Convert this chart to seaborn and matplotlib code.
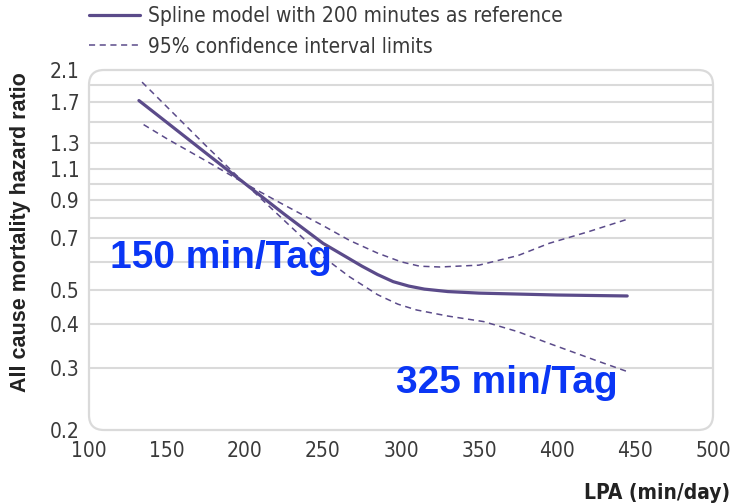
import numpy as np
import pandas as pd
import matplotlib
matplotlib.use("Agg")
import matplotlib.pyplot as plt
import seaborn as sns
from matplotlib.patches import FancyBboxPatch
from matplotlib.lines import Line2D

# ---- data ----
lpa_main = [132, 150, 175, 200, 225, 250, 265, 275, 285, 295, 305, 315, 330, 350, 400, 445]
hr_main = [1.72, 1.49, 1.22, 1.00, 0.820, 0.677, 0.619, 0.583, 0.552, 0.527, 0.512, 0.502, 0.494, 0.489, 0.483, 0.480]

lpa_upper = [134, 150, 175, 200, 225, 250, 267, 285, 300, 312, 325, 350, 375, 395, 420, 445]
hr_upper = [1.94, 1.65, 1.28, 1.00, 0.87, 0.76, 0.69, 0.635, 0.60, 0.583, 0.580, 0.587, 0.625, 0.677, 0.73, 0.792]

lpa_lower = [135, 150, 175, 200, 225, 250, 267, 285, 298, 310, 330, 353, 375, 395, 425, 445]
hr_lower = [1.47, 1.34, 1.16, 1.00, 0.787, 0.62, 0.544, 0.484, 0.455, 0.438, 0.421, 0.406, 0.38, 0.352, 0.315, 0.293]

x_ticks = [100, 150, 200, 250, 300, 350, 400, 450, 500]
y_ticks = [0.2, 0.3, 0.4, 0.5, 0.7, 0.9, 1.1, 1.3, 1.7, 2.1]
y_grid = [0.3, 0.4, 0.5, 0.6, 0.7, 0.8, 0.9, 1.0, 1.1, 1.3, 1.5, 1.7, 1.9]

legend_labels = ["Spline model with 200 minutes as reference", "95% confidence interval limits"]
notes = [("150 min/Tag", 184.6, 0.615), ("325 min/Tag", 368, 0.272)]

# ---- style ----
sns.set_theme(style="white")
plt.rcParams['font.family'] = ['DejaVu Sans']
plt.rcParams['font.stretch'] = 'condensed'

line_col = "#5b4b8a"
grid_col = "#dadada"
text_col = "#3a3a3a"

fig = plt.figure(figsize=(7.32, 5.04), dpi=100)
ax = fig.add_axes([89 / 732, 74 / 504, 624 / 732, 360 / 504])

df_main = pd.DataFrame({"LPA": lpa_main, "HR": hr_main})
df_up = pd.DataFrame({"LPA": lpa_upper, "HR": hr_upper})
df_lo = pd.DataFrame({"LPA": lpa_lower, "HR": hr_lower})

ax.set_yscale("log")
for y in y_grid:
    ax.axhline(y, color=grid_col, lw=1.5, zorder=0)

sns.lineplot(data=df_main, x="LPA", y="HR", ax=ax, color=line_col, lw=2.3, zorder=3, sort=False)
sns.lineplot(data=df_up, x="LPA", y="HR", ax=ax, color=line_col, lw=1.1, zorder=3, sort=False,
             dashes=False, linestyle=(0, (4, 3)))
sns.lineplot(data=df_lo, x="LPA", y="HR", ax=ax, color=line_col, lw=1.1, zorder=3, sort=False,
             dashes=False, linestyle=(0, (4, 3)))

ax.set_xlim(100, 500)
ax.set_ylim(0.2, 2.1)
ax.set_xticks(x_ticks)
ax.set_xticklabels([str(v) for v in x_ticks])
ax.set_yticks(y_ticks)
ax.set_yticklabels([f"{v:.1f}" for v in y_ticks])
ax.yaxis.set_minor_locator(matplotlib.ticker.NullLocator())
ax.tick_params(axis="y", length=0, pad=7, labelsize=15, labelcolor=text_col)
ax.tick_params(axis="x", direction="in", length=8, width=1.2, color=grid_col, pad=8,
               labelsize=15, labelcolor=text_col)
ax.set_xlabel("")
ax.set_ylabel("")
for s in ax.spines.values():
    s.set_visible(False)

# rounded frame
pos = ax.get_position()
W, H = fig.get_size_inches()
frame = FancyBboxPatch((pos.x0 * W, pos.y0 * H), pos.width * W, pos.height * H,
                       boxstyle="round,pad=0,rounding_size=0.15",
                       transform=fig.dpi_scale_trans, fill=False,
                       edgecolor=grid_col, lw=1.6, zorder=1, clip_on=False)
fig.patches.append(frame)

for txt, xx, yy in notes:
    ax.text(xx, yy, txt, color="#0a36f5", fontsize=28, fontweight="bold",
            family=["Liberation Sans", "DejaVu Sans"], ha="center", va="center", zorder=5)

fig.text(21 / 732, 1 - 232 / 504, "All cause mortality hazard ratio", rotation=90,
         ha="center", va="center", fontsize=15.5, fontweight="bold", color="#222222",
         family=["Liberation Sans", "DejaVu Sans"])
fig.text(730 / 732, 1 - 493 / 504, "LPA (min/day)", ha="right", va="center",
         fontsize=15, fontweight="bold", color="#222222")

handles = [Line2D([0], [0], color=line_col, lw=2.3),
           Line2D([0], [0], color=line_col, lw=1.1, linestyle=(0, (4, 3)))]
fig.legend(handles, legend_labels, loc="upper left", bbox_to_anchor=(70 / 732, 1.025),
           frameon=False, fontsize=15, handlelength=2.45, handletextpad=0.4,
           labelspacing=0.5, labelcolor=text_col)

fig.savefig("out.png", dpi=100)
